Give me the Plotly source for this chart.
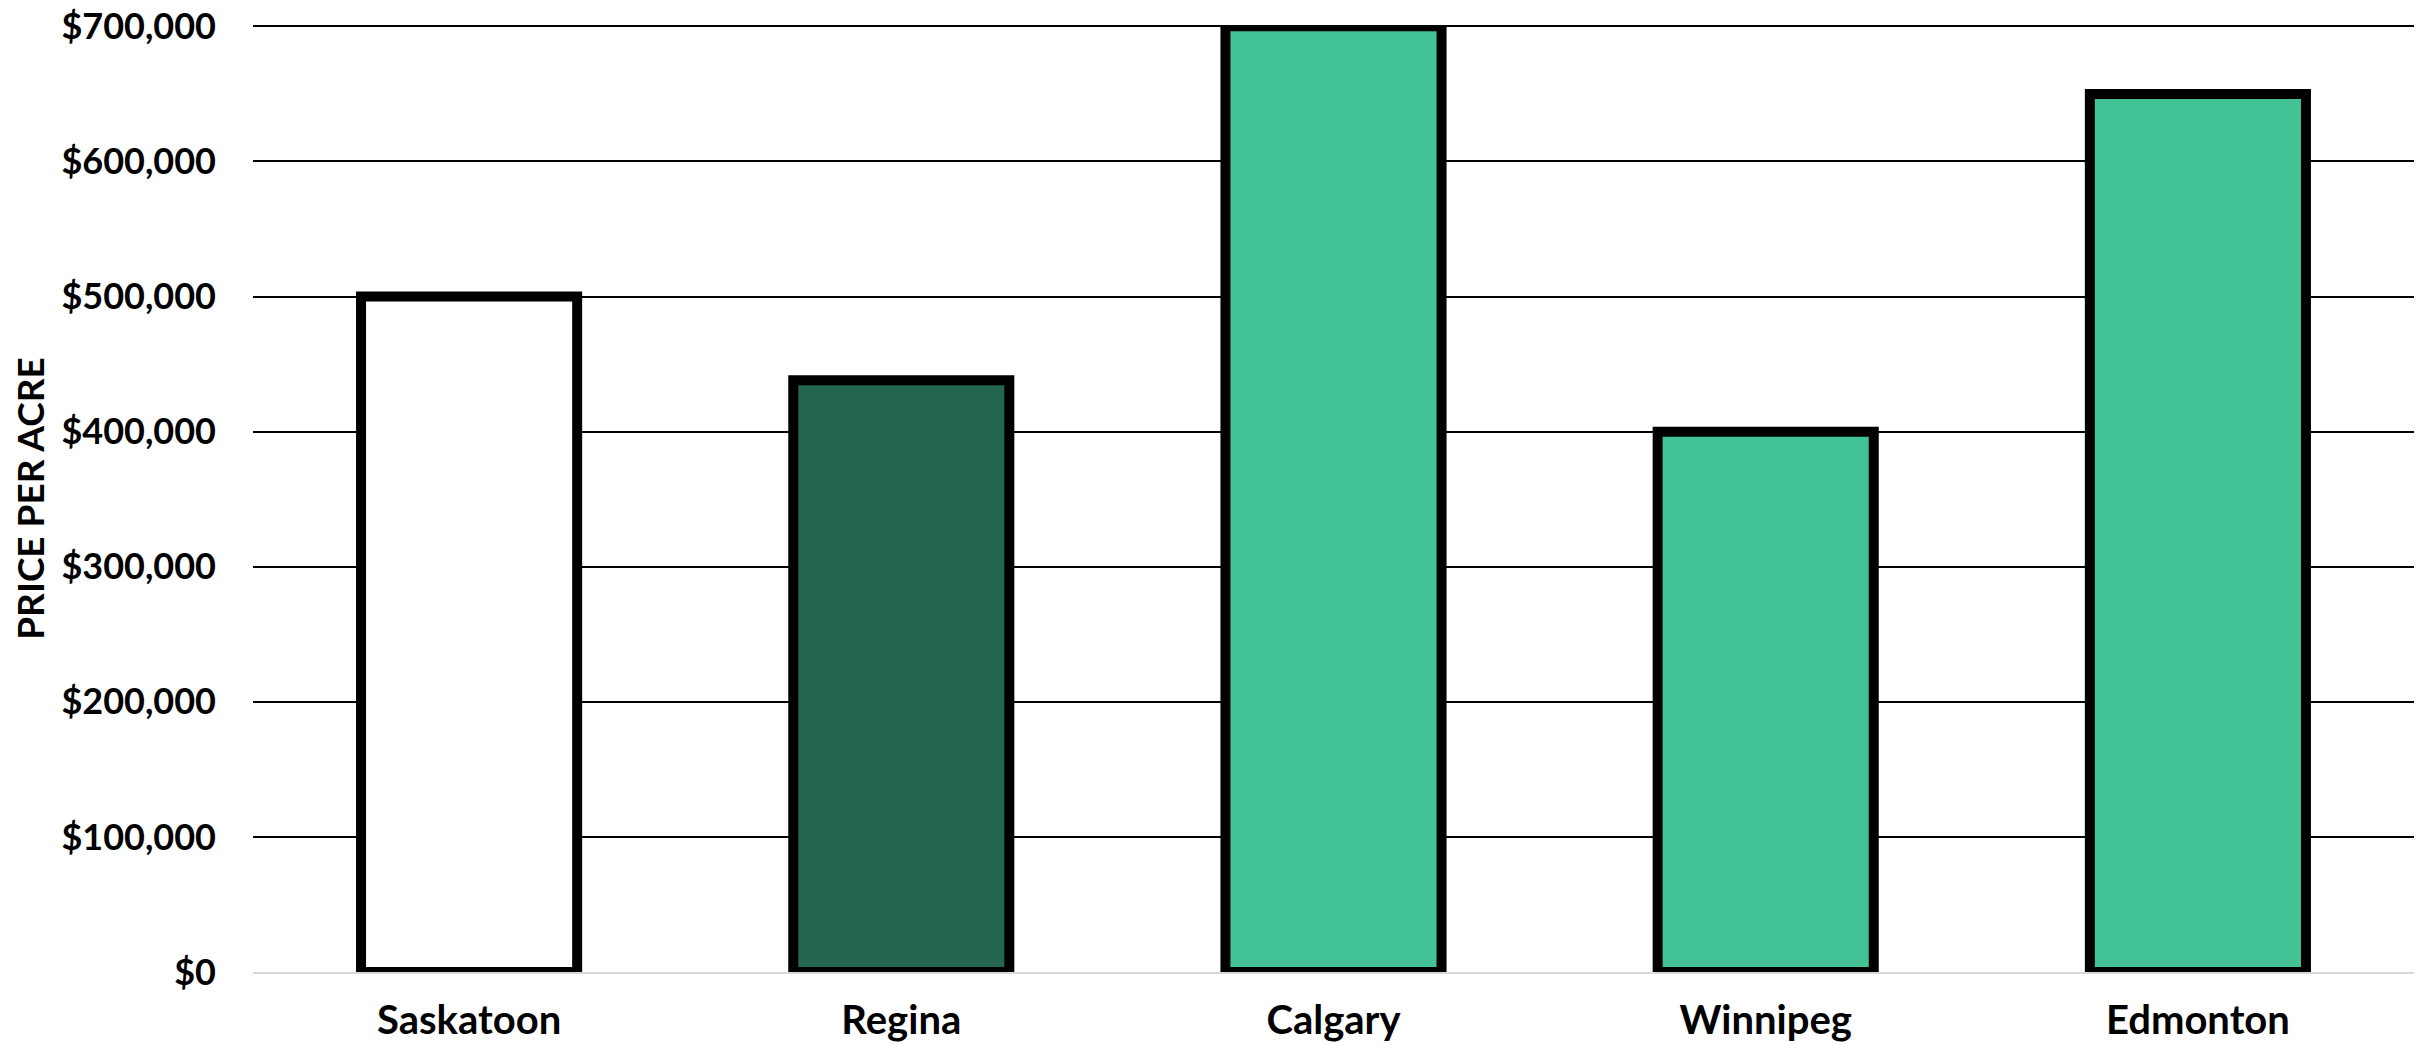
import plotly.graph_objects as go

cities = ["Saskatoon", "Regina", "Calgary", "Winnipeg", "Edmonton"]
price_per_acre = [500000, 438000, 700000, 400000, 650000]
fill_colors = ["#FFFFFF", "#24664F", "#43C295", "#43C295", "#43C295"]
tick_vals = [0, 100000, 200000, 300000, 400000, 500000, 600000, 700000]
tick_text = ["$0", "$100,000", "$200,000", "$300,000", "$400,000", "$500,000", "$600,000", "$700,000"]

font_family = "Lato"

fig = go.Figure(
    go.Bar(
        x=cities,
        y=price_per_acre,
        marker=dict(color=fill_colors, line=dict(color="#000000", width=10)),
        hoverinfo="skip",
    )
)

fig.update_layout(
    width=2422,
    height=1044,
    margin=dict(l=253, r=8, t=25, b=72, autoexpand=False),
    plot_bgcolor="white",
    paper_bgcolor="white",
    bargap=0.5,
    showlegend=False,
    font=dict(family=font_family, color="#000000", weight="bold"),
)

fig.update_yaxes(
    range=[0, 701000],
    automargin=False,
    tickvals=tick_vals,
    ticktext=tick_text,
    tickfont=dict(size=36, family=font_family, color="#000000", weight="bold"),
    ticklabelstandoff=36,
    ticklabeloverflow="allow",
    showgrid=True,
    gridcolor="#000000",
    gridwidth=1.6,
    zeroline=False,
    showline=False,
    title=dict(
        text="PRICE PER ACRE",
        font=dict(size=37, family=font_family, color="#000000", weight="bold"),
        standoff=5,
    ),
)

fig.update_xaxes(
    automargin=False,
    tickfont=dict(size=40, family=font_family, color="#000000", weight="bold"),
    ticklabeloverflow="allow",
    showline=True,
    linecolor="#D9D9D9",
    linewidth=2,
    ticks="outside",
    ticklen=12,
    tickcolor="rgba(0,0,0,0)",
    showgrid=False,
)

fig.write_html(
    "out.html",
    config={"displayModeBar": False},
    post_script="document.body.style.margin='0';document.body.style.overflow='hidden';",
)
